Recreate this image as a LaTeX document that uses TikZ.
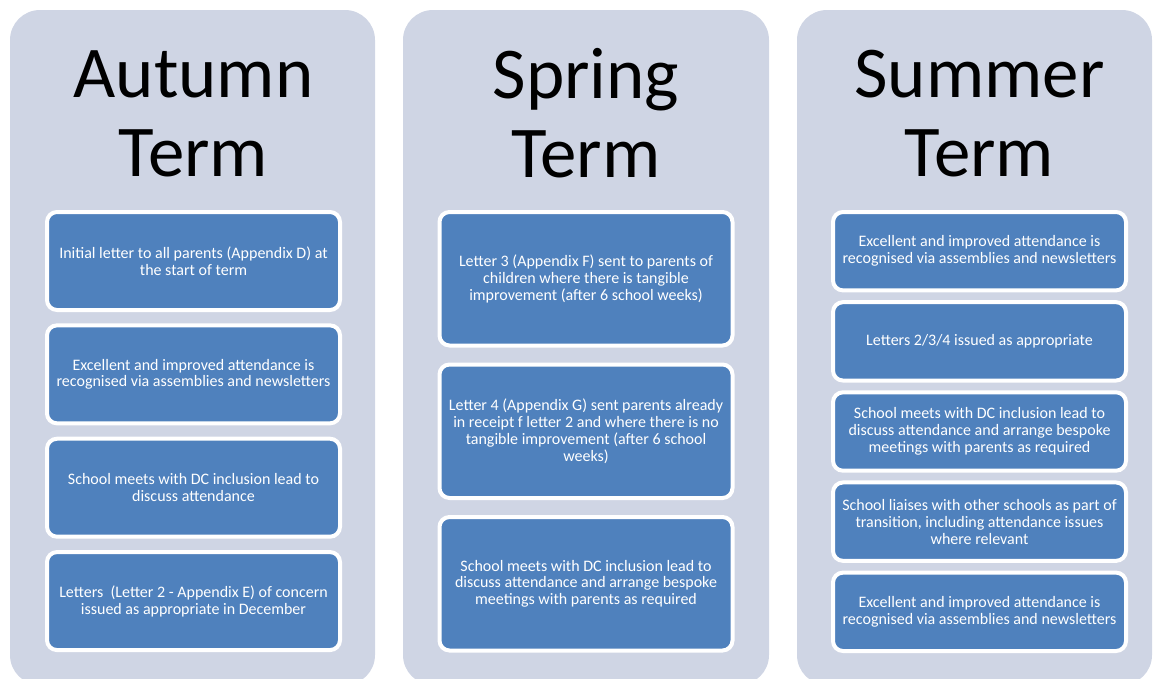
\documentclass[tikz,border=0pt]{standalone}
\usepackage{fontspec}
\setmainfont{Carlito}
\usetikzlibrary{positioning,fit,calc}

\definecolor{panelgray}{RGB}{207,213,228}
\definecolor{boxblue}{RGB}{79,129,189}

\tikzset{
  panel/.style={rounded corners=0.6cm, fill=panelgray, draw=none,
                inner sep=0pt, outer sep=0pt},
  termhead/.style={align=center, text=black, inner sep=0pt,
                   font=\fontsize{41.5}{45}\selectfont},
  termbox/.style={rounded corners=0.2cm, fill=boxblue, draw=white,
                  line width=0.08cm, text=white, align=center,
                  inner sep=2pt, outer sep=0pt, minimum width=5.86cm,
                  font=\fontsize{9.1}{9.6}\selectfont},
}

\begin{document}
\begin{tikzpicture}
   \useasboundingbox (0,0) rectangle (23.06,-13.56);
   \clip (0,0) rectangle (23.06,-13.56);

   % background panels
   \node[panel, minimum width=7.30cm, minimum height=13.5cm] (autumn) at (3.85,-6.95)  {};
   \node[panel, minimum width=7.32cm, minimum height=13.5cm] (spring) at (11.72,-6.95) {};
   \node[panel, minimum width=7.10cm, minimum height=13.5cm] (summer) at (19.49,-6.95) {};

   % headings
   \node[termhead] (autumnhead) at (3.87,-2.27)  {Autumn\\Term};
   \node[termhead] (springhead) at (11.72,-2.27) {Spring\\Term};
   \node[termhead] (summerhead) at (19.59,-2.27) {Summer\\Term};

   % autumn term
   \node[termbox, minimum height=1.96cm, below=0cm of {(3.87,-4.24)}] (aut1)
      {Initial letter to all parents (Appendix D) at\\the start of term};
   \node[termbox, minimum height=1.96cm, below=0.307cm of aut1] (aut2)
      {Excellent and improved attendance is\\recognised via assemblies and newsletters};
   \node[termbox, minimum height=1.96cm, below=0.307cm of aut2] (aut3)
      {School meets with DC inclusion lead to\\discuss attendance};
   \node[termbox, minimum height=1.96cm, below=0.307cm of aut3] (aut4)
      {Letters~ (Letter 2 - Appendix E) of concern\\issued as appropriate in December};

   % spring term
   \node[termbox, minimum height=2.67cm, below=0cm of {(11.72,-4.24)}] (spr1)
      {Letter 3 (Appendix F) sent to parents of\\children where there is tangible\\improvement (after 6 school weeks)};
   \node[termbox, minimum height=2.67cm, below=0.38cm of spr1] (spr2)
      {Letter 4 (Appendix G) sent parents already\\in receipt f letter 2 and where there is no\\tangible improvement (after 6 school\\weeks)};
   \node[termbox, minimum height=2.67cm, below=0.38cm of spr2] (spr3)
      {School meets with DC inclusion lead to\\discuss attendance and arrange bespoke\\meetings with parents as required};

   % summer term
   \node[termbox, minimum height=1.568cm, below=0cm of {(19.59,-4.24)}] (sum1)
      {Excellent and improved attendance is\\recognised via assemblies and newsletters};
   \node[termbox, minimum height=1.568cm, below=0.235cm of sum1] (sum2)
      {Letters 2/3/4 issued as appropriate};
   \node[termbox, minimum height=1.568cm, below=0.235cm of sum2] (sum3)
      {School meets with DC inclusion lead to\\discuss attendance and arrange bespoke\\meetings with parents as required};
   \node[termbox, minimum height=1.568cm, below=0.235cm of sum3] (sum4)
      {School liaises with other schools as part of\\transition, including attendance issues\\where relevant};
   \node[termbox, minimum height=1.568cm, below=0.235cm of sum4] (sum5)
      {Excellent and improved attendance is\\recognised via assemblies and newsletters};
\end{tikzpicture}
\end{document}
